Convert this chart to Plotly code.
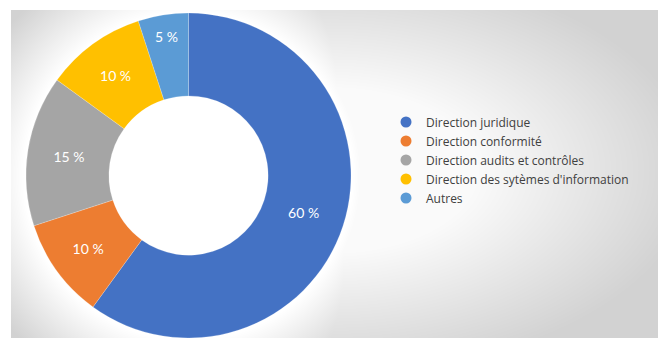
import base64, struct, zlib
import numpy as np
import plotly.graph_objects as go

categories = ["Direction juridique", "Direction conformité", "Direction audits et contrôles",
              "Direction des sytèmes d'information", "Autres"]
values = [60, 10, 15, 10, 5]
colors = ["#4472C4", "#ED7D31", "#A5A5A5", "#FFC000", "#5B9BD5"]

W, H = 658, 338

# --- soft gray background with a light glow (built as a small PNG) ---
bx0, by0 = 11, 10
bw, bh = W - bx0, H - by0
yy, xx = np.mgrid[0:bh, 0:bw].astype(float)
xx += bx0
yy += by0
dx = (xx - 330) / 330
dy = (yy - 170) / 185
d = np.sqrt(dx**2 + dy**2)
v = 250 - 42 * np.clip((d - 0.45) / 0.7, 0, 1)
rd = np.sqrt((xx - 188) ** 2 + (yy - 176) ** 2)
glow = 255 - 45 * np.clip((rd - 165) / 70, 0, 1)
v = np.maximum(v, glow)
img = np.clip(v, 0, 255).astype(np.uint8)

def png_bytes(a):
    h, w = a.shape
    raw = b"".join(b"\x00" + a[i].tobytes() for i in range(h))
    def chunk(t, data):
        c = struct.pack(">I", len(data)) + t + data
        return c + struct.pack(">I", zlib.crc32(t + data) & 0xffffffff)
    return (b"\x89PNG\r\n\x1a\n" + chunk(b"IHDR", struct.pack(">IIBBBBB", w, h, 8, 0, 0, 0, 0))
            + chunk(b"IDAT", zlib.compress(raw, 9)) + chunk(b"IEND", b""))

uri = "data:image/png;base64," + base64.b64encode(png_bytes(img)).decode()

fig = go.Figure()
fig.add_trace(go.Pie(
    labels=categories, values=values, sort=False, direction="clockwise", rotation=0,
    hole=0.49,
    marker=dict(colors=colors, line=dict(color="rgba(255,255,255,0.4)", width=0.5)),
    texttemplate="%{value} %", textposition="inside", insidetextorientation="horizontal",
    textfont=dict(color="white", size=14, family="Lato"),
    domain=dict(x=[22 / W, 355 / W], y=[0, 1 - 13 / H]),
    showlegend=False, hoverinfo="label+percent",
))
for c, col in zip(categories, colors):
    fig.add_trace(go.Scatter(x=[None], y=[None], mode="markers", name=c,
                             marker=dict(symbol="circle", size=11, color=col)))

fig.update_layout(
    width=W, height=H, margin=dict(l=0, r=0, t=0, b=0),
    paper_bgcolor="white", plot_bgcolor="rgba(0,0,0,0)",
    xaxis=dict(visible=False), yaxis=dict(visible=False),
    images=[dict(source=uri, xref="paper", yref="paper", x=bx0 / W, y=1 - by0 / H,
                 sizex=bw / W, sizey=bh / H, sizing="stretch", xanchor="left", yanchor="top",
                 layer="below")],
    legend=dict(x=386 / W, y=1 - 160 / H, xanchor="left", yanchor="middle",
                font=dict(family="Open Sans", size=12, color="#404040"),
                bgcolor="rgba(0,0,0,0)", itemwidth=30, tracegroupgap=0),
)
fig.write_html("out.html")
